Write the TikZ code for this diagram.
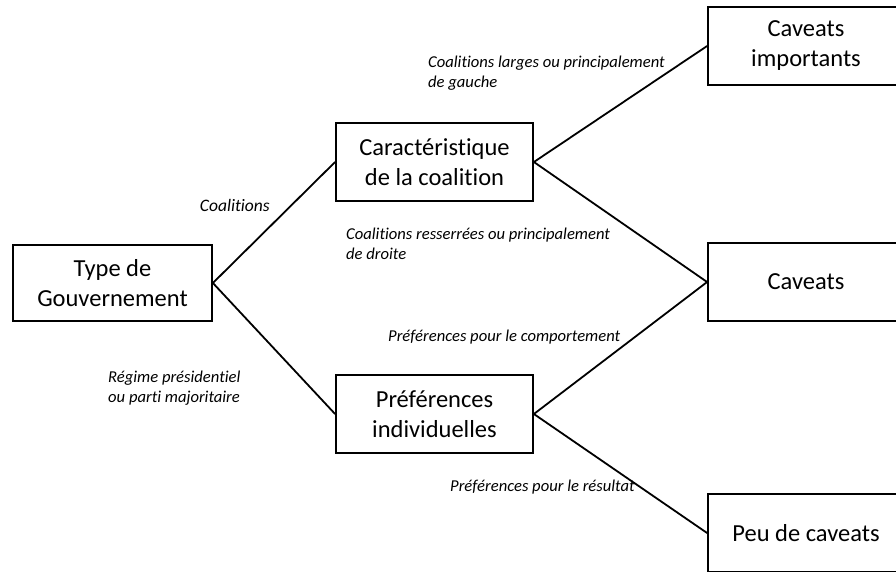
\documentclass[tikz,border=0pt]{standalone}
\usepackage{fontspec}
\setmainfont{Carlito}[Ligatures=NoCommon]
\begin{document}
\begin{tikzpicture}[x=1pt,y=-1pt,
  box/.style={draw=black,line width=1.8pt,fill=white,minimum width=197pt,minimum height=78pt,
    align=center,inner sep=0pt,font=\fontsize{24.5}{30}\selectfont},
  conn/.style={draw=black,line width=1.8pt},
  lab/.style={anchor=west,align=left,inner sep=0pt,font=\fontsize{16.6}{20.5}\selectfont\itshape}]
\useasboundingbox (0,0) rectangle (896,571);
\clip (0,0) rectangle (896,571);
\node[box,minimum width=199pt,minimum height=76pt] (type) at (112.5,283) {Type de\\Gouvernement};
\node[box] (car) at (434.5,162) {Caractéristique\\de la coalition};
\node[box] (pref) at (434.5,414) {Préférences\\individuelles};
\node[box,minimum width=196pt] (cavimp) at (806,46) {Caveats\\importants};
\node[box,minimum width=196pt] (cav) at (806,282) {Caveats};
\node[box,minimum width=196pt] (peu) at (806,533) {Peu de caveats};
\draw[conn] (type.east) -- (car.west);
\draw[conn] (type.east) -- (pref.west);
\draw[conn] (car.east) -- (cavimp.west);
\draw[conn] (car.east) -- (cav.west);
\draw[conn] (pref.east) -- (cav.west);
\draw[conn] (pref.east) -- (peu.west);
\node[lab,anchor=east,font=\fontsize{17.5}{20.5}\selectfont\itshape] (l1) at (270,205) {Coalitions};
\node[lab] (l2) at (428,73) {Coalitions larges ou principalement\\de gauche};
\node[lab] (l3) at (346,244) {Coalitions resserrées ou principalement\\de droite};
\node[lab] (l4) at (388,337) {Préférences pour le comportement};
\node[lab] (l5) at (108,388) {Régime présidentiel\\ou parti majoritaire};
\node[lab] (l6) at (450,487) {Préférences pour le résultat};
\end{tikzpicture}
\end{document}
